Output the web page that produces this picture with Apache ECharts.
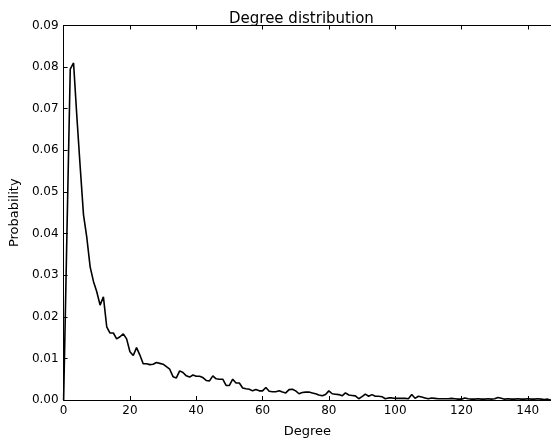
<!DOCTYPE html>
<html>
<head>
<meta charset="utf-8">
<script src="https://cdn.jsdelivr.net/npm/echarts@6/dist/echarts.min.js"></script>
<style>html,body{margin:0;padding:0;background:#fff;}#c{width:551px;height:443px;}</style>
</head>
<body>
<div id="c"></div>
<script>
var titleText = 'Degree distribution';
var xName = 'Degree';
var yName = 'Probability';
var xTicks = [0, 20, 40, 60, 80, 100, 120, 140];
var yTicks = [0.00, 0.01, 0.02, 0.03, 0.04, 0.05, 0.06, 0.07, 0.08, 0.09];
// probability for degree 0, 1, 2, ... (one value per degree)
var probability = [
  0, 0.040, 0.0795, 0.081, 0.068, 0.056, 0.0445, 0.039, 0.032, 0.0285,
  0.026, 0.0228, 0.0248, 0.0176, 0.0161, 0.0161, 0.0147, 0.0152, 0.0159, 0.0147,
  0.0116, 0.0107, 0.0126, 0.0108, 0.0087, 0.0087, 0.0085, 0.0086, 0.0090, 0.0088,
  0.0086, 0.0080, 0.0074, 0.0056, 0.0053, 0.0070, 0.0066, 0.0058, 0.0055, 0.0060,
  0.0057, 0.0057, 0.0054, 0.0047, 0.0046, 0.0058, 0.0051, 0.0050, 0.0050, 0.0035,
  0.0035, 0.0050, 0.0041, 0.0041, 0.0029, 0.0027, 0.0026, 0.0022, 0.0025, 0.0022,
  0.0022, 0.0030, 0.0021, 0.0020, 0.0020, 0.0022, 0.0019, 0.0017, 0.0025, 0.0026,
  0.0022, 0.0015, 0.0018, 0.0019, 0.0019, 0.0017, 0.0015, 0.0012, 0.0010, 0.0013,
  0.0022, 0.0015, 0.0014, 0.0013, 0.0010, 0.0017, 0.0012, 0.0011, 0.0010, 0.0003,
  0.0008, 0.0014, 0.0009, 0.0013, 0.0009, 0.0009, 0.0008, 0.0003, 0.0005, 0.0005,
  0.0004, 0.0004, 0.0004, 0.0004, 0.0003, 0.0013, 0.0004, 0.0009, 0.0007, 0.0005,
  0.0003, 0.0005, 0.0004, 0.0003, 0.0003, 0.0003, 0.0003, 0.0004, 0.0003, 0.0002,
  0.0002, 0.0005, 0.0003, 0.0002, 0.0002, 0.0003, 0.0002, 0.0002, 0.0003, 0.0002,
  0.0003, 0.0006, 0.0004, 0.0002, 0.0003, 0.0002, 0.0002, 0.0003, 0.0002, 0.0002,
  0.0003, 0.0002, 0.0002, 0.0003, 0.0002, 0.0001, 0.0002, 0.0000
];

var seriesData = probability.map(function (v, i) { return [i, v]; });
var font = 'DejaVu Sans';
var chart = echarts.init(document.getElementById('c'), null, {renderer: 'canvas'});
chart.setOption({
  animation: false,
  backgroundColor: '#ffffff',
  title: {
    text: titleText, left: 224, top: 7,
    textStyle: {fontFamily: font, fontSize: 15, fontWeight: 'normal', color: '#000'}
  },
  grid: {left: 63.5, right: 0, top: 25.5, bottom: 32, containLabel: false},
  xAxis: [{
    type: 'value', min: 0, max: 147, interval: 20,
    name: xName, nameLocation: 'middle', nameGap: 25,
    nameTextStyle: {fontFamily: font, fontSize: 13, color: '#000'},
    axisLine: {show: true, onZero: false, lineStyle: {color: '#000', width: 1}},
    axisTick: {show: true, inside: true, length: 4, lineStyle: {color: '#000'}},
    axisLabel: {fontFamily: font, fontSize: 12, color: '#000', margin: 5,
      customValues: xTicks, formatter: function (v) { return String(v); }},
    splitLine: {show: false}
  }, {
    type: 'value', min: 0, max: 147, interval: 20, position: 'top',
    axisLine: {show: true, onZero: false, lineStyle: {color: '#000', width: 1}},
    axisTick: {show: true, inside: true, length: 4, lineStyle: {color: '#000'}},
    axisLabel: {show: false}, splitLine: {show: false}
  }],
  yAxis: {
    type: 'value', min: 0, max: 0.09, interval: 0.01,
    name: yName, nameLocation: 'middle', nameGap: 42, nameRotate: 90,
    nameTextStyle: {fontFamily: font, fontSize: 13, color: '#000'},
    axisLine: {show: true, onZero: false, lineStyle: {color: '#000', width: 1}},
    axisTick: {show: true, inside: true, length: 4, lineStyle: {color: '#000'}},
    axisLabel: {fontFamily: font, fontSize: 12, color: '#000', margin: 5,
      customValues: yTicks, formatter: function (v) { return v.toFixed(2); }},
    splitLine: {show: false}
  },
  series: [{
    type: 'line', data: seriesData, showSymbol: false, symbol: 'none',
    clip: true,
    lineStyle: {color: '#000', width: 1.6}
  }]
});
</script>
</body>
</html>
